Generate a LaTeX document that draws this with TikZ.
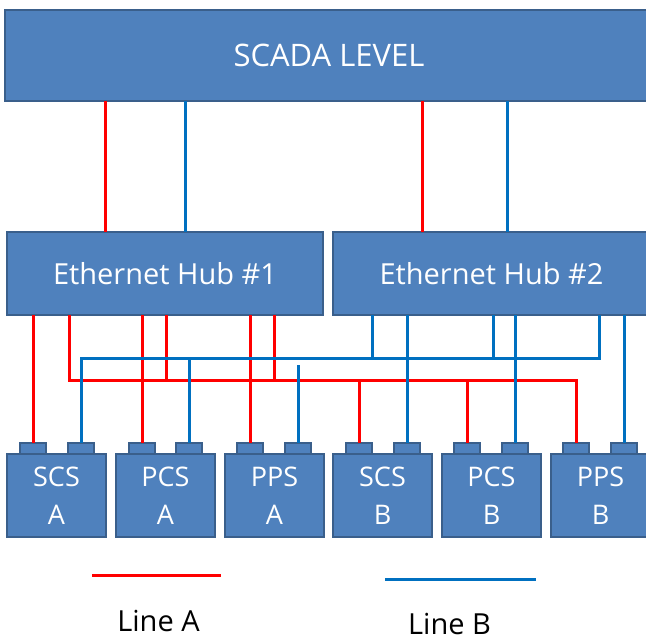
\documentclass[tikz,border=0pt]{standalone}
\usepackage{fontspec}
\setmainfont{Open Sans}
\definecolor{boxfill}{HTML}{4F81BD}
\definecolor{boxline}{HTML}{3A5F8B}
\definecolor{redline}{HTML}{FF0000}
\definecolor{blueline}{HTML}{0070C0}
\begin{document}
\begin{tikzpicture}[x=1pt,y=-1pt,
  box/.style={draw=boxline, line width=2pt, fill=boxfill, inner sep=0pt, outer sep=0pt,
    anchor=north west, text=white},
  devbox/.style={box, minimum width=99pt, minimum height=83pt, align=center,
    font=\fontsize{27}{38}\selectfont},
  tabbox/.style={draw=boxline, line width=2pt, fill=boxfill, inner sep=0pt, outer sep=0pt,
    minimum width=26pt, minimum height=11pt},
  lineA/.style={draw=redline, line width=3pt},
  lineB/.style={draw=blueline, line width=3pt},
  legendtext/.style={font=\fontsize{29}{34}\selectfont, text=black}]
\useasboundingbox (0,0) rectangle (646,642);
\clip (0,0) rectangle (646,642);
\fill[white] (0,0) rectangle (646,642);

% boxes
\node[box, minimum width=648pt, minimum height=91pt, font=\fontsize{31}{36}\selectfont]
  (scada) at (5,10) {SCADA LEVEL};
\node[box, minimum width=316pt, minimum height=83pt, font=\fontsize{29}{34}\selectfont]
  (hub1) at (7,232) {Ethernet Hub \#1};
\node[box, minimum width=317pt, minimum height=83pt, font=\fontsize{29}{34}\selectfont]
  (hub2) at (333,232) {Ethernet Hub \#2};

% tabs
\node[tabbox] (sa1) at (33,448.5) {};
\node[tabbox] (sa2) at (81,448.5) {};
\node[tabbox] (pa1) at (142,448.5) {};
\node[tabbox] (pa2) at (189,448.5) {};
\node[tabbox] (qa1) at (250,448.5) {};
\node[tabbox] (qa2) at (298,448.5) {};
\node[tabbox] (sb1) at (359,448.5) {};
\node[tabbox] (sb2) at (407,448.5) {};
\node[tabbox] (pb1) at (467,448.5) {};
\node[tabbox] (pb2) at (515,448.5) {};
\node[tabbox] (qb1) at (576,448.5) {};
\node[tabbox] (qb2) at (624,448.5) {};

% devices
\node[devbox] (scsA) at (7,454) {SCS\\A};
\node[devbox] (pcsA) at (116,454) {PCS\\A};
\node[devbox] (ppsA) at (225,454) {PPS\\A};
\node[devbox] (scsB) at (333,454) {SCS\\B};
\node[devbox] (pcsB) at (442,454) {PCS\\B};
\node[devbox] (ppsB) at (551,454) {PPS\\B};

% coordinates
\coordinate (sr1) at (105,0);
\coordinate (sb1x) at (185,0);
\coordinate (sr2) at (422,0);
\coordinate (sb2x) at (507,0);
\coordinate (rbus) at (69,380);
\coordinate (rj2) at (166,380);
\coordinate (rj3) at (274,380);
\coordinate (bbus) at (599,358);
\coordinate (bj1) at (372,358);
\coordinate (bj2) at (493,358);
\coordinate (bq) at (298,365);

% SCADA to hubs
\draw[lineA] (scada.south -| sr1) -- (hub1.north -| sr1);
\draw[lineB] (scada.south -| sb1x) -- (hub1.north -| sb1x);
\draw[lineA] (scada.south -| sr2) -- (hub2.north -| sr2);
\draw[lineB] (scada.south -| sb2x) -- (hub2.north -| sb2x);

% red (Line A)
\draw[lineA] (hub1.south -| sa1) -- (sa1.north);
\draw[lineA] (hub1.south -| pa1) -- (pa1.north);
\draw[lineA] (hub1.south -| qa1) -- (qa1.north);
\draw[lineA] (hub1.south -| rbus) -- (rbus) -| (qb1.north);
\draw[lineA] (hub1.south -| rj2) -- (rj2);
\draw[lineA] (hub1.south -| rj3) -- (rj3);
\draw[lineA] (sb1 |- rbus) -- (sb1.north);
\draw[lineA] (pb1 |- rbus) -- (pb1.north);

% blue (Line B)
\draw[lineB] (hub2.south -| bbus) -- (bbus) -| (sa2.north);
\draw[lineB] (hub2.south -| bj1) -- (bj1);
\draw[lineB] (hub2.south -| bj2) -- (bj2);
\draw[lineB] (hub2.south -| sb2) -- (sb2.north);
\draw[lineB] (hub2.south -| pb2) -- (pb2.north);
\draw[lineB] (hub2.south -| qb2) -- (qb2.north);
\draw[lineB] (pa2 |- bbus) -- (pa2.north);
\draw[lineB] (bq) -- (qa2.north);

% legend
\coordinate (la1) at (92,575);
\coordinate (la2) at (221,575);
\coordinate (lb1) at (385,579);
\coordinate (lb2) at (536,579);
\draw[lineA] (la1) -- (la2);
\draw[lineB] (lb1) -- (lb2);
\node[legendtext] (ltA) at (158.5,621) {Line A};
\node[legendtext] (ltB) at (449.5,624) {Line B};
\end{tikzpicture}
\end{document}
